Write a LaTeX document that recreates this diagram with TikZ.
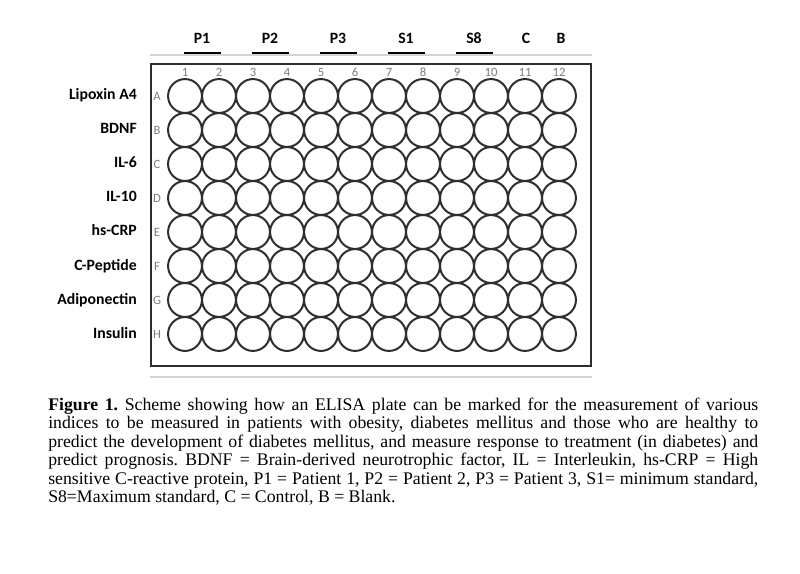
\documentclass[tikz,border=0pt]{standalone}
\usepackage{fontspec}
\setmainfont{Liberation Serif}
\newfontfamily\platefont{Carlito}
\usepackage{xcolor}
\usetikzlibrary{positioning,calc}
\definecolor{wellline}{HTML}{2E2E2E}
\definecolor{markgray}{HTML}{7C7C7C}
\definecolor{rimgray}{HTML}{D4D4D4}

\begin{document}
\begin{tikzpicture}[x=0.75pt, y=-0.75pt,
    well/.style={circle, draw=wellline, line width=1.5pt, inner sep=0pt, minimum size=25.4pt},
    tag/.style={font=\platefont\fontsize{11.8}{12}\selectfont\bfseries, inner sep=0pt},
    platemark/.style={font=\platefont\fontsize{9.5}{10}\selectfont, text=markgray, inner sep=0pt}]
\useasboundingbox (0,0) rectangle (800,574);

% Plate outline
\node[draw=wellline, line width=1.5pt, minimum width=330.5pt, minimum height=227pt, inner sep=0pt] (plate) at (371,215) {};
\draw[rimgray, line width=1.5pt] ($(plate.north west)+(0,-8)$) -- ($(plate.north east)+(0,-8)$);
\draw[rimgray, line width=1.5pt] ($(plate.south west)+(0,10)$) -- ($(plate.south east)+(0,10)$);

% Wells, column numbers
\foreach \c in {1,...,12} {
  \node[platemark, anchor=base] (col\c) at (185+34*\c-34, 77) {\c};
  \foreach \r in {1,...,8}
    \node[well] (w\r-\c) at (185+34*\c-34, 96+34*\r-34) {};
}

% Row letters and analytes
\foreach \lab [count=\r] in {Lipoxin A4, BDNF, IL-6, IL-10, hs-CRP, C-Peptide, Adiponectin, Insulin} {
  \node[tag, anchor=base east] (ana\r) at (137, 100+34*\r-34) {\lab};
}
\foreach \rl [count=\r] in {A,B,C,D,E,F,G,H}
  \node[platemark, anchor=base] (row\r) at (157, 100.5+34*\r-34) {\rl};

% Sample groups
\foreach \grp/\xx in {P1/202, P2/270, P3/338, S1/406, S8/474} {
  \node[tag, anchor=base] (\grp) at (\xx, 44) {\grp};
  \draw[line width=1.5pt] ($(\grp.base)+(-18.5,9)$) -- ($(\grp.base)+(18.5,9)$);
}
\node[tag, anchor=base] (ctrl) at (526, 44) {C};
\node[tag, anchor=base] (blank) at (561, 44) {B};

% Caption
\node[anchor=base west, inner sep=0pt, text width=532.5pt, align=justify,
      font=\fontsize{13.3}{13.9}\selectfont\frenchspacing] (caption) at (48, 410)
  {\textbf{Figure 1.} Scheme showing how an ELISA plate can be marked for the measurement of various\linebreak
   indices to be measured in patients with obesity, diabetes mellitus and those who are healthy to\linebreak
   predict the development of diabetes mellitus, and measure response to treatment (in diabetes) and\linebreak
   predict prognosis. BDNF = Brain-derived neurotrophic factor, IL = Interleukin, hs-CRP = High\linebreak
   sensitive C-reactive protein, P1 = Patient 1, P2 = Patient 2, P3 = Patient 3, S1= minimum standard,\linebreak
   S8=Maximum standard, C = Control, B = Blank.};
\end{tikzpicture}
\end{document}
